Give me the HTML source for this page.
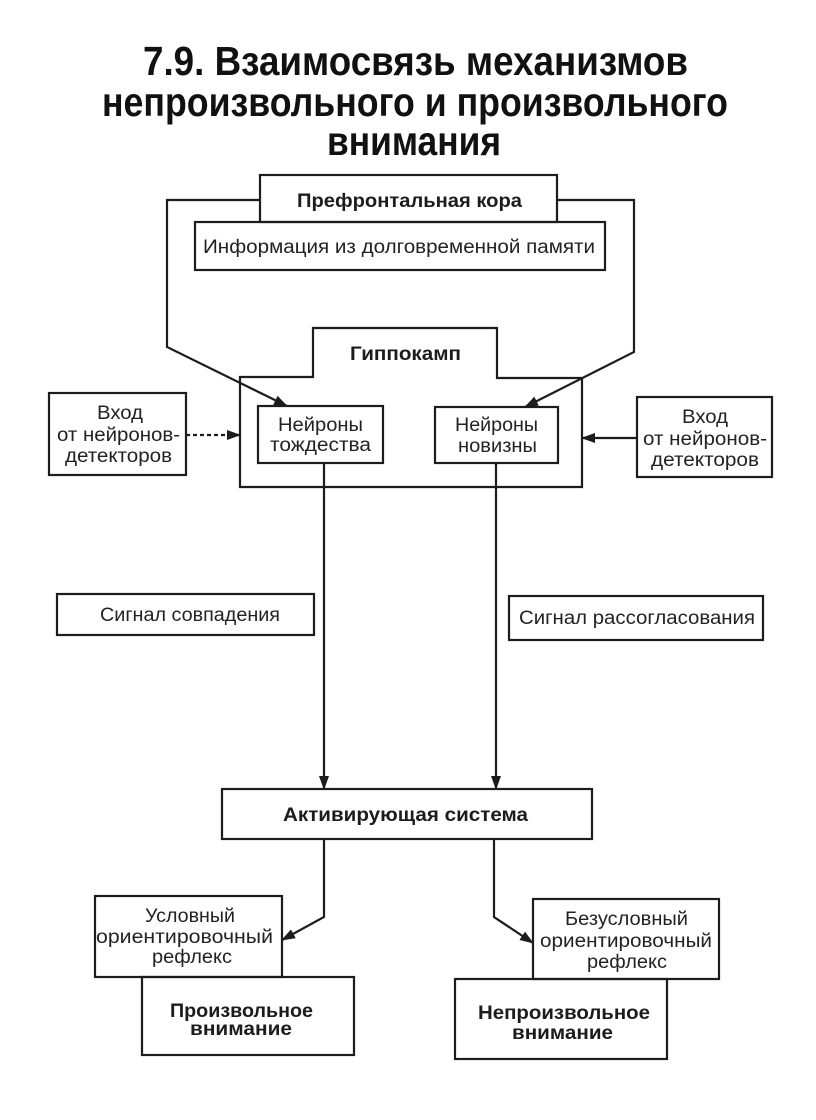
<!DOCTYPE html>
<html>
<head>
<meta charset="utf-8">
<style>
  html, body { margin: 0; padding: 0; background: #ffffff; }
  body { width: 816px; height: 1120px; overflow: hidden; }
  svg { display: block; }
  text { font-family: "Liberation Sans", "DejaVu Sans", sans-serif; fill: #1c1c1c; }
  .t { font-weight: bold; font-size: 41px; fill: #111; }
  .b { font-weight: bold; font-size: 19px; }
  .r { font-size: 19px; fill: #222; }
</style>
</head>
<body>
<svg width="816" height="1120" viewBox="0 0 816 1120" xmlns="http://www.w3.org/2000/svg">
  <defs>
    <marker id="ah" markerUnits="userSpaceOnUse" markerWidth="14" markerHeight="10" refX="13" refY="5" orient="auto">
      <path d="M0,0 L14,5 L0,10 z" fill="#1c1c1c"/>
    </marker>
  </defs>

  <!-- Title -->
  <text class="t" x="143" y="75" textLength="545" lengthAdjust="spacingAndGlyphs">7.9. Взаимосвязь механизмов</text>
  <text class="t" x="102" y="116" textLength="626" lengthAdjust="spacingAndGlyphs">непроизвольного и произвольного</text>
  <text class="t" x="327" y="155" textLength="174" lengthAdjust="spacingAndGlyphs">внимания</text>

  <g fill="none" stroke="#1c1c1c" stroke-width="2.2">
    <!-- Prefrontal cortex -->
    <rect x="260" y="175" width="297" height="47"/>
    <rect x="195" y="222" width="410" height="48"/>
    <!-- Hippocampus outline -->
    <path d="M313,328 H497 V378 H582 V487 H240 V377 H313 Z"/>
    <!-- Neuron boxes -->
    <rect x="258" y="406" width="125" height="57"/>
    <rect x="435" y="407" width="123" height="56"/>
    <!-- Input boxes -->
    <rect x="49" y="393" width="137" height="82"/>
    <rect x="637" y="397" width="135" height="80"/>
    <!-- Signal boxes -->
    <rect x="57" y="594" width="257" height="41"/>
    <rect x="509" y="596" width="254" height="44"/>
    <!-- Activating system -->
    <rect x="222" y="789" width="370" height="50"/>
    <!-- Reflex boxes -->
    <rect x="95" y="896" width="187" height="81"/>
    <rect x="533" y="899" width="186" height="80"/>
    <!-- Attention boxes -->
    <rect x="142" y="977" width="212" height="78"/>
    <rect x="455" y="979" width="212" height="80"/>

    <!-- Connectors -->
    <path d="M260,200 H167 V347 L287,406" marker-end="url(#ah)"/>
    <path d="M557,200 H634 V352 L525,407" marker-end="url(#ah)"/>
    <path d="M186,435 H240" stroke-dasharray="4,3" marker-end="url(#ah)"/>
    <path d="M637,438 H582" marker-end="url(#ah)"/>
    <path d="M324,463 V789" marker-end="url(#ah)"/>
    <path d="M496,463 V789" marker-end="url(#ah)"/>
    <path d="M324,839 V917 L282,940" marker-end="url(#ah)"/>
    <path d="M494,839 V917 L533,943" marker-end="url(#ah)"/>
  </g>

  <!-- Labels -->
  <text class="b" x="297" y="207" textLength="225" lengthAdjust="spacingAndGlyphs">Префронтальная кора</text>
  <text class="r" x="203" y="253" textLength="392" lengthAdjust="spacingAndGlyphs">Информация из долговременной памяти</text>
  <text class="b" x="350" y="360" textLength="111" lengthAdjust="spacingAndGlyphs">Гиппокамп</text>

  <text class="r" x="278" y="431" textLength="85" lengthAdjust="spacingAndGlyphs">Нейроны</text>
  <text class="r" x="270" y="451" textLength="101" lengthAdjust="spacingAndGlyphs">тождества</text>
  <text class="r" x="455" y="431" textLength="83" lengthAdjust="spacingAndGlyphs">Нейроны</text>
  <text class="r" x="458" y="452" textLength="79" lengthAdjust="spacingAndGlyphs">новизны</text>

  <text class="r" x="97" y="419" textLength="46" lengthAdjust="spacingAndGlyphs">Вход</text>
  <text class="r" x="57" y="441" textLength="123" lengthAdjust="spacingAndGlyphs">от нейронов-</text>
  <text class="r" x="65" y="462" textLength="107" lengthAdjust="spacingAndGlyphs">детекторов</text>

  <text class="r" x="682" y="423" textLength="46" lengthAdjust="spacingAndGlyphs">Вход</text>
  <text class="r" x="643" y="445" textLength="124" lengthAdjust="spacingAndGlyphs">от нейронов-</text>
  <text class="r" x="651" y="466" textLength="108" lengthAdjust="spacingAndGlyphs">детекторов</text>

  <text class="r" x="100" y="621" textLength="180" lengthAdjust="spacingAndGlyphs">Сигнал совпадения</text>
  <text class="r" x="519" y="624" textLength="236" lengthAdjust="spacingAndGlyphs">Сигнал рассогласования</text>

  <text class="b" x="283" y="821" textLength="245" lengthAdjust="spacingAndGlyphs">Активирующая система</text>

  <text class="r" x="145" y="922" textLength="90" lengthAdjust="spacingAndGlyphs">Условный</text>
  <text class="r" x="96" y="943" textLength="177" lengthAdjust="spacingAndGlyphs">ориентировочный</text>
  <text class="r" x="152" y="963" textLength="80" lengthAdjust="spacingAndGlyphs">рефлекс</text>

  <text class="r" x="565" y="925" textLength="123" lengthAdjust="spacingAndGlyphs">Безусловный</text>
  <text class="r" x="540" y="947" textLength="172" lengthAdjust="spacingAndGlyphs">ориентировочный</text>
  <text class="r" x="587" y="968" textLength="80" lengthAdjust="spacingAndGlyphs">рефлекс</text>

  <text class="b" x="170" y="1017" textLength="143" lengthAdjust="spacingAndGlyphs">Произвольное</text>
  <text class="b" x="190" y="1035" textLength="102" lengthAdjust="spacingAndGlyphs">внимание</text>

  <text class="b" x="478" y="1019" textLength="172" lengthAdjust="spacingAndGlyphs">Непроизвольное</text>
  <text class="b" x="512" y="1039" textLength="101" lengthAdjust="spacingAndGlyphs">внимание</text>
</svg>
</body>
</html>
